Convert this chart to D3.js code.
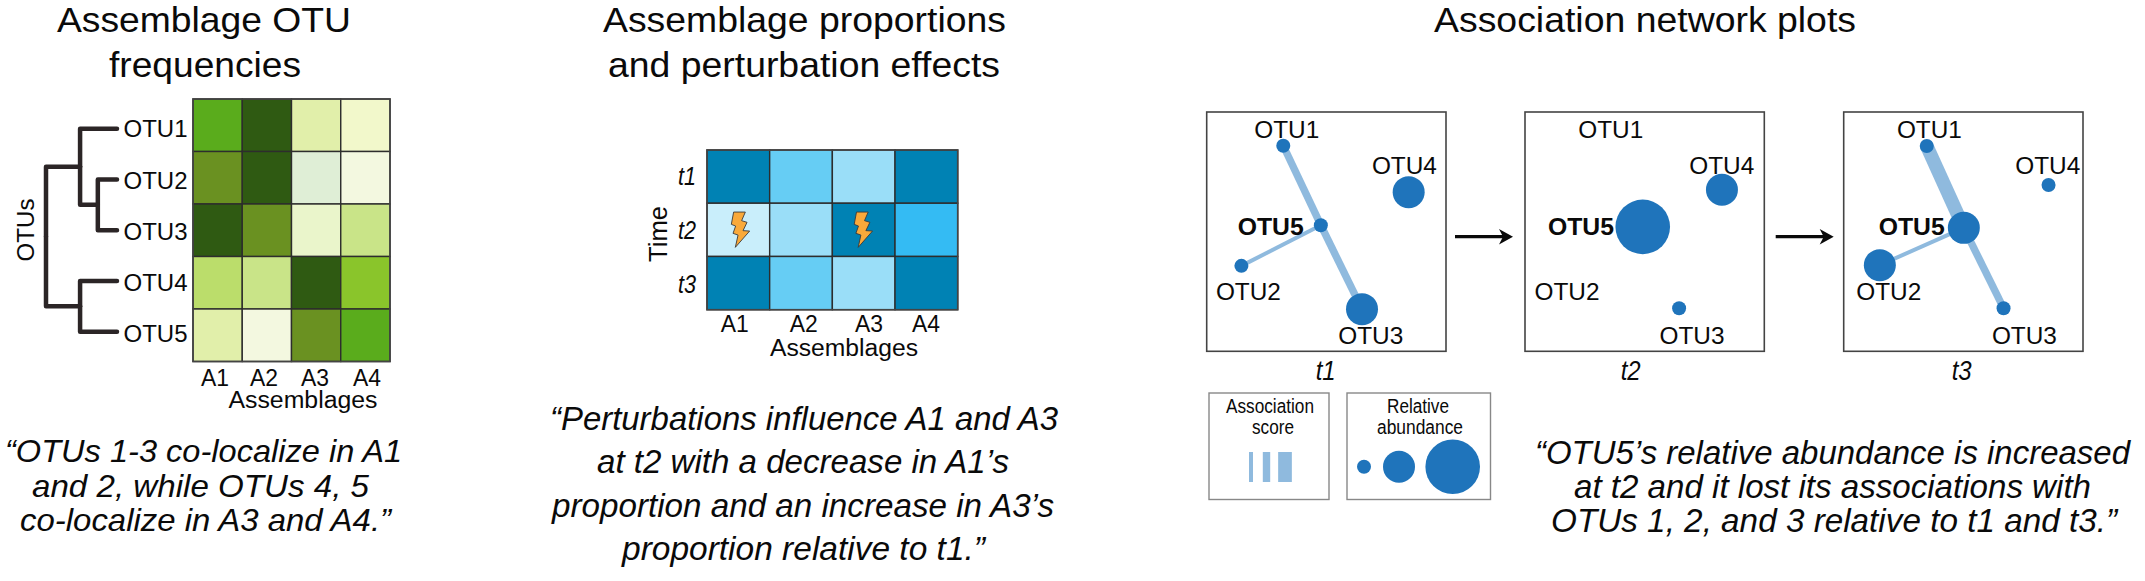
<!DOCTYPE html>
<html><head><meta charset="utf-8">
<style>html,body{margin:0;padding:0;background:#fff}svg{display:block}text{font-family:"Liberation Sans",Arial,sans-serif;fill:#0a0a0a}</style>
<script src="https://cdn.jsdelivr.net/npm/d3@7/dist/d3.min.js"></script>
</head><body><svg id="c" width="2145" height="581"></svg>
<script>
// ---------- data ----------
const otus = ["OTU1","OTU2","OTU3","OTU4","OTU5"];
const assemblages = ["A1","A2","A3","A4"];
const times = ["t1","t2","t3"];
// OTU frequency level per assemblage (0 lowest .. 10 highest)
const freqOTU1 = [8,10,3,1];
const freqOTU2 = [9,10,2,0];
const freqOTU3 = [10,9,1.5,4];
const freqOTU4 = [5,4,10,7];
const freqOTU5 = [3,0,9,8];
const freqLevels = [0,1,1.5,2,3,4,5,7,8,9,10];
const freqColors = ["#f3f8e0","#f2f8cb","#eaf5cb","#dfeed6","#e1efaa","#c9e488","#bbdd6b","#8ac52b","#5aac1c","#6a9121","#2f5a12"];
// assemblage proportion level per time point
const propT1 = [4,2,1,4];
const propT2 = [0,1,4,3];
const propT3 = [4,2,1,4];
const propLevels = [0,1,2,3,4];
const propColors = ["#c9eefb","#9adef8","#66cdf4","#34bbf3","#0082b4"];
const perturbations = [["A1","t2"],["A3","t2"]];
// dendrogram, merge height 0 (leaves) .. 100 (root)
const dendrogram = {h:100,children:[{h:52,children:[{name:"OTU1"},{h:27,children:[{name:"OTU2"},{name:"OTU3"}]}]},{h:52,children:[{name:"OTU4"},{name:"OTU5"}]}]};
// network layouts, in percent of panel size
const nodeXt1 = [32,14.5,64.9,84.4,47.7];
const nodeYt1 = [14.1,64.3,82.4,33.5,47.3];
const abundT1 = [1,1,2,2,1];
const nodeXt2 = [null,null,64.4,82.3,49.2];
const nodeYt2 = [null,null,82,32.5,48];
const abundT2 = [0,0,1,2,3];
const nodeXt3 = [34.7,15.1,66.8,85.6,50.2];
const nodeYt3 = [14.2,64,82,30.5,48.4];
const abundT3 = [1,2,1,1,2];
const edgesT1 = [["OTU1","OTU5",2],["OTU5","OTU3",2],["OTU5","OTU2",1]];
const edgesT2 = [];
const edgesT3 = [["OTU1","OTU5",3],["OTU5","OTU3",2],["OTU5","OTU2",1]];
const legendScores = [1,2,3];
const legendAbund = [1,2,3];
const titleLines = [["Assemblage OTU","frequencies"],["Assemblage proportions","and perturbation effects"],["Association network plots"]];
const quote1 = ["“OTUs 1-3 co-localize in A1","and 2, while OTUs 4, 5","co-localize in A3 and A4.”"];
const quote2 = ["“Perturbations influence A1 and A3","at t2 with a decrease in A1’s","proportion and an increase in A3’s","proportion relative to t1.”"];
const quote3 = ["“OTU5’s relative abundance is increased","at t2 and it lost its associations with","OTUs 1, 2, and 3 relative to t1 and t3.”"];

// ---------- helpers ----------
const svg = d3.select("#c");
function txt(s,x,y,size,opt={}){
  const t = svg.append("text").attr("x",x).attr("y",y).attr("font-size",size).text(s)
    .attr("text-anchor",opt.anchor||"middle");
  if(opt.italic) t.attr("font-style","italic");
  if(opt.bold) t.attr("font-weight","bold");
  if(opt.width){t.attr("textLength",opt.width).attr("lengthAdjust","spacingAndGlyphs");}
  if(opt.rot) t.attr("transform",`rotate(-90 ${x} ${y})`);
  return t;
}
function block(lines,ext,ys,size,italic){
  lines.forEach((l,i)=>txt(l,(ext[i][0]+ext[i][1])/2,ys[i],size,{italic,width:ext[i][1]-ext[i][0]}));
}
function heat(rowNames,matrix,levels,colors,x0,x1,y0,y1){
  const x=d3.scaleBand().domain(assemblages).range([x0,x1]);
  const y=d3.scaleBand().domain(rowNames).range([y0,y1]);
  const c=d3.scaleOrdinal().domain(levels).range(colors);
  const g=svg.append("g");
  rowNames.forEach((r,i)=>{
    g.selectAll(null).data(matrix[i]).join("rect")
      .attr("x",(d,j)=>x(assemblages[j])).attr("y",y(r))
      .attr("width",x.bandwidth()).attr("height",y.bandwidth())
      .attr("fill",d=>c(d)).attr("stroke","#2d2d2d").attr("stroke-width",1.4);
  });
  g.append("rect").attr("x",x0).attr("y",y0).attr("width",x1-x0).attr("height",y1-y0)
    .attr("fill","none").attr("stroke","#444").attr("stroke-width",1.6);
  return {x,y};
}

// ---------- titles ----------
block(titleLines[0],[[57,351],[109,301]],[32,77],35,false);
block(titleLines[1],[[603,1006],[608,1000]],[32,77],35,false);
block(titleLines[2],[[1434,1856]],[32],35,false);

// ---------- panel 1 ----------
const h1=heat(otus,[freqOTU1,freqOTU2,freqOTU3,freqOTU4,freqOTU5],freqLevels,freqColors,193,390,99,361.5);
const root=d3.hierarchy(dendrogram);
const leafY=d3.scalePoint().domain(otus).range([128.7,331.7]);
const hX=d3.scaleLinear().domain([0,100]).range([117,46]);
root.eachAfter(n=>{ n.py=n.children?d3.mean(n.children,c=>c.py):leafY(n.data.name);
                    n.px=hX(n.data.h||0); });
svg.append("g").selectAll("path").data(root.links()).join("path")
  .attr("d",l=>`M${l.source.px},${l.source.py}V${l.target.py}H${l.target.px}`)
  .attr("fill","none").attr("stroke","#2b2526").attr("stroke-width",4.5).attr("stroke-linecap","round").attr("stroke-linejoin","round");
const otuBase=[137,188.7,239.7,291,342];
otus.forEach((o,i)=>txt(o,123.5,otuBase[i],23.5,{anchor:"start",width:64}));
const a1c=[215,264,315,367];
assemblages.forEach((a,i)=>txt(a,a1c[i],385.7,23,{width:28}));
txt("Assemblages",303,407.7,23,{width:149});
txt("OTUs",34.3,230,24,{rot:true,width:63});
block(quote1,[[5,402],[32,369],[20,391]],[462,497,531],32,true);

// ---------- panel 2 ----------
const h2=heat(times,[propT1,propT2,propT3],propLevels,propColors,707,957.7,150,309.7);
const tBase=[185,239,292.7];
times.forEach((t,i)=>txt(t,687,tBase[i],25,{italic:true,width:18}));
txt("Time",667,234,25,{rot:true,width:56});
const a2c=[734.7,803.7,869,926];
assemblages.forEach((a,i)=>txt(a,a2c[i],331.7,23,{width:28}));
txt("Assemblages",844,356,23,{width:148});
const boltPts=[[-6.7,-17.3],[5,-17.3],[1.3,-8.7],[6.7,-7],[2.7,1.3],[9.3,1.7],[-5,18],[-2.3,5.7],[-7.3,4],[-4.7,-3.3],[-9,-5]];
const boltDx=[2,-0.5];
svg.append("g").selectAll("polygon").data(perturbations).join("polygon")
  .attr("points",boltPts.map(p=>p.join(",")).join(" "))
  .attr("transform",(d,i)=>`translate(${h2.x(d[0])+h2.x.bandwidth()/2+boltDx[i]},${h2.y(d[1])+h2.y.bandwidth()/2-0.5})`)
  .attr("fill","#f9a93a").attr("stroke","#3a3a3a").attr("stroke-width",0.9);
block(quote2,[[550,1058],[597,1009],[552,1054],[622,985]],[430,473,517,560],33,true);

// ---------- panel 3 ----------
const PW=239.3;
const sx=d3.scaleLinear().domain([0,100]).range([0,PW]);
const sr=d3.scaleOrdinal().domain([1,2,3]).range([7,16,27.3]);
const sw=d3.scaleOrdinal().domain([1,2,3]).range([4,7.4,13.7]);
const panels=[
 {name:"t1",x:1206.7,X:nodeXt1,Y:nodeYt1,A:abundT1,E:edgesT1,labelCx:119,
  lab:[[80,26],[41.7,188],[164,232],[197.7,62],[64,123]]},
 {name:"t2",x:1525,X:nodeXt2,Y:nodeYt2,A:abundT2,E:edgesT2,labelCx:105.7,
  lab:[[85.7,26],[42,188],[167,232],[196.7,62],[56,123]]},
 {name:"t3",x:1843.7,X:nodeXt3,Y:nodeYt3,A:abundT3,E:edgesT3,labelCx:118,
  lab:[[85.7,26],[45,188],[180.7,232],[204,62],[68,123]]}
];
const NODE="#1f74bb", EDGE="#8fbade";
panels.forEach(p=>{
  const g=svg.append("g").attr("transform",`translate(${p.x},112)`);
  g.append("rect").attr("width",PW).attr("height",PW).attr("fill","#fff").attr("stroke","#444").attr("stroke-width",1.6);
  const pos=n=>{const i=otus.indexOf(n);return [sx(p.X[i]),sx(p.Y[i])];};
  g.selectAll("line").data(p.E).join("line")
    .attr("x1",d=>pos(d[0])[0]).attr("y1",d=>pos(d[0])[1])
    .attr("x2",d=>pos(d[1])[0]).attr("y2",d=>pos(d[1])[1])
    .attr("stroke",EDGE).attr("stroke-width",d=>sw(d[2]));
  g.selectAll("circle").data(otus.map((o,i)=>i).filter(i=>p.A[i]>0)).join("circle")
    .attr("cx",i=>sx(p.X[i])).attr("cy",i=>sx(p.Y[i])).attr("r",i=>sr(p.A[i])).attr("fill",NODE);
  otus.forEach((o,i)=>{
    txt(o,p.x+p.lab[i][0],112+p.lab[i][1],24,{bold:o==="OTU5",width:o==="OTU5"?66:65});
  });
  txt(p.name,p.x+p.labelCx,380,28,{italic:true,width:20});
});
// arrows
[[1455,1513],[1775.7,1833.7]].forEach(([a,b])=>{
  svg.append("line").attr("x1",a).attr("x2",b-8).attr("y1",236.7).attr("y2",236.7).attr("stroke","#0a0a0a").attr("stroke-width",3.2);
  svg.append("path").attr("d",`M${b},236.7L${b-14},229L${b-10},236.7L${b-14},244.4Z`).attr("fill","#0a0a0a");
});
// legends
svg.append("rect").attr("x",1209).attr("y",393).attr("width",120).attr("height",106.5).attr("fill","none").attr("stroke","#888").attr("stroke-width",1.4);
svg.append("rect").attr("x",1347).attr("y",393).attr("width",143.5).attr("height",106.5).attr("fill","none").attr("stroke","#888").attr("stroke-width",1.4);
txt("Association",1270,413,20,{width:88});
txt("score",1273,434,20,{width:42});
txt("Relative",1418,413,20,{width:62});
txt("abundance",1420,434,20,{width:86});
const barCx={1:1251,2:1266.5,3:1285};
svg.append("g").selectAll("rect").data(legendScores).join("rect")
  .attr("x",d=>barCx[d]-sw(d)/2).attr("y",452).attr("width",d=>sw(d)).attr("height",30).attr("fill",EDGE);
const circCx={1:1364,2:1399,3:1452.7};
svg.append("g").selectAll("circle").data(legendAbund).join("circle")
  .attr("cx",d=>circCx[d]).attr("cy",466.8).attr("r",d=>sr(d)).attr("fill",NODE);
block(quote3,[[1535,2130],[1574,2091],[1551,2117]],[463.5,497.5,531.5],34,true);
</script></body></html>
